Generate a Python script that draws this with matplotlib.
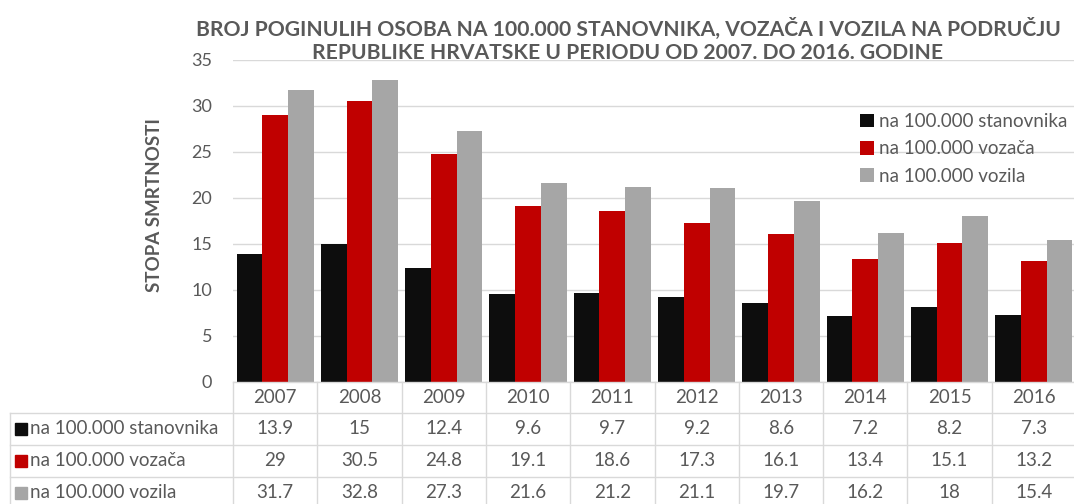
import matplotlib.pyplot as plt
import matplotlib.transforms as mtransforms
from matplotlib.lines import Line2D
import numpy as np

# Podaci
godine = ['2007', '2008', '2009', '2010', '2011', '2012', '2013', '2014', '2015', '2016']
serije = ['na 100.000 stanovnika', 'na 100.000 vozača', 'na 100.000 vozila']
stanovnika = [13.9, 15, 12.4, 9.6, 9.7, 9.2, 8.6, 7.2, 8.2, 7.3]
vozaca = [29, 30.5, 24.8, 19.1, 18.6, 17.3, 16.1, 13.4, 15.1, 13.2]
vozila = [31.7, 32.8, 27.3, 21.6, 21.2, 21.1, 19.7, 16.2, 18, 15.4]
boje = ['#0D0D0D', '#C00000', '#A6A6A6']
naslov = ['BROJ POGINULIH OSOBA NA 100.000 STANOVNIKA, VOZAČA I VOZILA NA PODRUČJU',
          'REPUBLIKE HRVATSKE U PERIODU OD 2007. DO 2016. GODINE']

plt.rcParams['font.family'] = ['Lato', 'DejaVu Sans']
siva = '#595959'
linija = '#D9D9D9'
fs = 13.5

W, H = 1074, 504
fig = plt.figure(figsize=(W / 100, H / 100), dpi=100)
ax = fig.add_axes([233 / W, (H - 382) / H, 843 / W, 322 / H])

x = np.arange(len(godine))
bw = 0.305
nizovi = [stanovnika, vozaca, vozila]
for i, (vals, ime, c) in enumerate(zip(nizovi, serije, boje)):
    ax.bar(x + (i - 1) * bw, vals, bw, color=c, label=ime, zorder=3)

ax.set_xlim(-0.5, len(godine) - 0.5)
ax.set_ylim(0, 35)
ax.set_yticks(range(0, 36, 5))
ax.grid(axis='y', color=linija, linewidth=1, zorder=0)
for s in ax.spines.values():
    s.set_visible(False)
ax.set_xticks([])
ax.tick_params(axis='y', length=0, labelsize=13, labelcolor=siva, pad=15)
ax.set_ylabel('STOPA SMRTNOSTI', fontsize=13.5, fontweight='bold', color=siva,
              va='center')
ax.yaxis.set_label_coords(-78 / 843, (382 - 205) / 322)

# Naslov (dva retka)
for red, yp in zip(naslov, [29, 53]):
    fig.text(628 / W, 1 - yp / H, red, ha='center', va='center',
             fontsize=15.2, fontweight='bold', color=siva)

# Legenda
ax.legend(loc='upper left', bbox_to_anchor=(860 / W, 1 - 113 / H),
          bbox_transform=fig.transFigure, frameon=False, fontsize=13.5,
          handlelength=0.75, handleheight=0.75, handletextpad=0.25,
          labelspacing=0.55, borderpad=0, borderaxespad=0, labelcolor=siva)

# Tablica podataka
tr = mtransforms.blended_transform_factory(ax.transData, ax.transAxes)
px = 1 / 322.0
red_h = 32 * px
hdr_h = 31 * px
y_dno = -122 * px
lw = 1

# vertikalne linije stupaca
for b in np.arange(len(godine) + 1) - 0.5:
    ax.add_line(Line2D([b, b], [0, y_dno], transform=tr, color=linija,
                       lw=lw, clip_on=False))
# horizontalne linije redaka
x_lijevo = ax.transData.inverted().transform((10, 0))[0]
for k in range(len(serije) + 1):
    yy = -hdr_h - k * red_h
    ax.add_line(Line2D([x_lijevo, len(godine) - 0.5], [yy, yy], transform=tr,
                       color=linija, lw=lw, clip_on=False))
ax.add_line(Line2D([x_lijevo, x_lijevo], [-hdr_h, y_dno], transform=tr,
                   color=linija, lw=lw, clip_on=False))
ax.add_line(Line2D([-0.5, len(godine) - 0.5], [0, 0], transform=tr,
                   color=linija, lw=lw, clip_on=False, zorder=4))

# zaglavlje
for xi, g in zip(x, godine):
    ax.text(xi, -hdr_h / 2, g, transform=tr, ha='center', va='center',
            fontsize=fs, color=siva)
# retci
for k, (vals, ime, c) in enumerate(zip(nizovi, serije, boje)):
    yc = -hdr_h - (k + 0.5) * red_h
    for xi, v in zip(x, vals):
        ax.text(xi, yc, f'{v:g}', transform=tr, ha='center', va='center',
                fontsize=fs, color=siva)
    ax.plot([ax.transData.inverted().transform((21, 0))[0]], [yc], 's',
            transform=tr, color=c, markersize=9, clip_on=False)
    ax.text(ax.transData.inverted().transform((30, 0))[0], yc, ime,
            transform=tr, ha='left', va='center', fontsize=fs, color=siva)

fig.savefig('out.png', dpi=100)
